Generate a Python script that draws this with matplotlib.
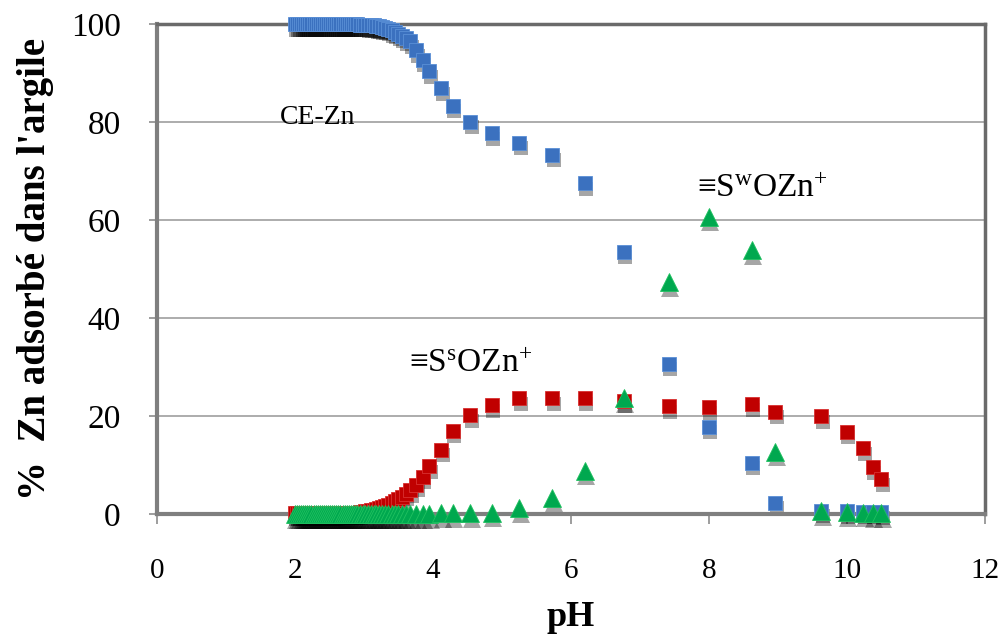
import numpy as np
import matplotlib
matplotlib.use('Agg')
import matplotlib.pyplot as plt
from matplotlib.transforms import ScaledTranslation

plt.rcParams['font.family'] = ['Liberation Serif', 'DejaVu Serif']
plt.rcParams['mathtext.fontset'] = 'custom'
plt.rcParams['mathtext.rm'] = 'Liberation Serif'
plt.rcParams['mathtext.it'] = 'Liberation Serif:italic'

# pH des points calcules
ph = [2.00, 2.03, 2.06, 2.09, 2.12, 2.15, 2.18, 2.21, 2.24, 2.27, 2.30,
      2.33, 2.36, 2.39, 2.42, 2.45, 2.48, 2.51, 2.54, 2.57, 2.60,
      2.63, 2.66, 2.69, 2.72, 2.75, 2.78, 2.81, 2.84, 2.87, 2.90,
      2.94, 2.98, 3.02, 3.06, 3.10, 3.14, 3.18, 3.22, 3.26, 3.30,
      3.35, 3.40, 3.45, 3.50, 3.55, 3.61, 3.67,
      3.76, 3.85, 3.95, 4.12, 4.29, 4.54, 4.85, 5.25, 5.73, 6.20,
      6.77, 7.42, 8.00, 8.62, 8.96, 9.63, 10.00, 10.24, 10.38, 10.50]

# CE-Zn
ce_zn = [100, 100, 100, 100, 100, 100, 100, 100, 100, 100, 100,
         100, 100, 100, 100, 100, 100, 100, 100, 100, 100,
         100, 100, 100, 100, 100, 100, 100, 100, 100, 100,
         99.9, 99.9, 99.9, 99.8, 99.8, 99.7, 99.6, 99.5, 99.4, 99.2,
         99.0, 98.7, 98.4, 98.0, 97.6, 97.1, 96.5,
         94.7, 92.7, 90.4, 86.9, 83.3, 80.1, 77.7, 75.8, 73.3, 67.5,
         53.5, 30.7, 17.8, 10.5, 2.3, 0.7, 0.6, 0.5, 0.5, 0.4]

# =SsOZn+
ssozn = [0.1, 0.1, 0.1, 0.1, 0.1, 0.1, 0.1, 0.1, 0.1, 0.1, 0.1,
         0.2, 0.2, 0.2, 0.2, 0.2, 0.2, 0.2, 0.2, 0.2, 0.2,
         0.3, 0.3, 0.3, 0.3, 0.3, 0.3, 0.3, 0.3, 0.3, 0.3,
         0.4, 0.5, 0.6, 0.7, 0.8, 0.9, 1.0, 1.2, 1.4, 1.6,
         1.9, 2.2, 2.6, 3.0, 3.5, 4.1, 4.8,
         6.0, 7.6, 9.8, 13.1, 17.0, 20.2, 22.2, 23.6, 23.6, 23.6,
         23.1, 22.0, 21.8, 22.4, 20.9, 19.9, 16.8, 13.4, 9.5, 7.1]

# =SwOZn+
swozn = [0, 0, 0, 0, 0, 0, 0, 0, 0, 0, 0,
         0, 0, 0, 0, 0, 0, 0, 0, 0, 0,
         0, 0, 0, 0, 0, 0, 0, 0, 0, 0,
         0, 0, 0, 0, 0, 0, 0, 0, 0, 0,
         0, 0, 0, 0, 0, 0, 0,
         0, 0, 0, 0.1, 0.2, 0.2, 0.3, 1.2, 3.3, 8.8,
         23.6, 47.3, 60.7, 53.8, 12.7, 0.6, 0.4, 0.3, 0.2, 0.2]

fig = plt.figure(figsize=(10.06, 6.44), dpi=100)
ax = fig.add_axes([0.156, 0.2019, 0.823, 0.7608])

series = [(ce_zn, 's', '#3b71bf', '#5a8fd6', 10.3),
          (ssozn, 's', '#c00000', '#d83030', 10.3),
          (swozn, '^', '#00a84f', '#20c060', 12.5)]

# ombres portees (style excel)
shadow = ax.transData + ScaledTranslation(1.0 / 72, -4.0 / 72, fig.dpi_scale_trans)
for y, m, c, ec, ms in series:
    ax.plot(ph, y, ls='none', marker=m, ms=ms, color='black', alpha=0.35,
            mew=0, transform=shadow, clip_on=False, zorder=2)

for k, (y, m, c, ec, ms) in enumerate(series):
    ax.plot(ph, y, ls='none', marker=m, ms=ms, mfc=c, mec=ec, mew=0.6,
            clip_on=False, zorder=3 + k)

ax.set_xlim(0, 12)
ax.set_ylim(0, 100)
ax.set_xticks([0, 2, 4, 6, 8, 10, 12])
ax.set_yticks([0, 20, 40, 60, 80, 100])
ax.yaxis.grid(True, color='#a6a6a6', lw=1.3)
ax.set_axisbelow(True)

for side in ['left', 'bottom']:
    ax.spines[side].set_color('#7f7f7f')
    ax.spines[side].set_linewidth(3)
for side in ['top', 'right']:
    ax.spines[side].set_color('#6a6a6a')
    ax.spines[side].set_linewidth(2.5)

ax.tick_params(axis='x', direction='out', length=7, width=1.2, color='#8c8c8c',
               labelsize=21, pad=25)
ax.tick_params(axis='y', direction='out', length=6, width=1.2, color='#8c8c8c',
               labelsize=24, pad=20)

ax.set_xlabel('pH', fontsize=26, fontweight='bold', labelpad=12)
ax.set_ylabel("%  Zn adsorbé dans l'argile", fontsize=28, fontweight='bold', labelpad=12)

ax.text(2.33, 81, 'CE-Zn', fontsize=20, ha='center', va='center', zorder=6)
ax.text(7.83, 64.7, '≡S$^{\\mathrm{w}}$OZn$^{+}$', fontsize=24, zorder=6)
ax.text(3.65, 29, '≡S$^{\\mathrm{s}}$OZn$^{+}$', fontsize=24, zorder=6)

fig.savefig('out.png', dpi=100)
